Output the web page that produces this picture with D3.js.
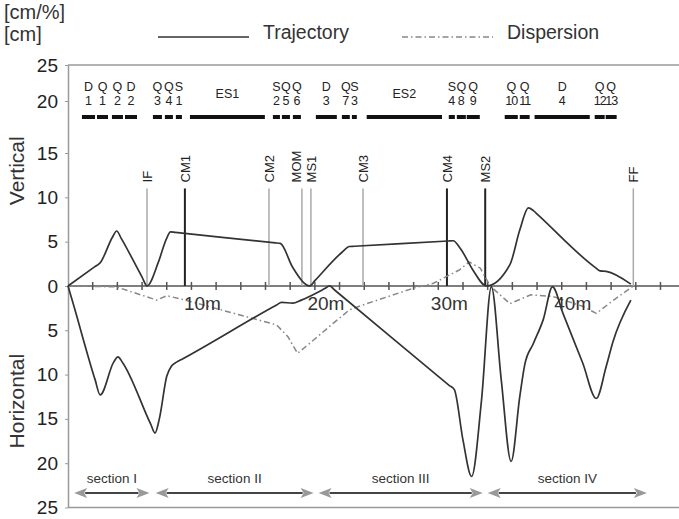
<!DOCTYPE html>
<html>
<head>
<meta charset="utf-8">
<script src="https://cdn.jsdelivr.net/npm/d3@7"></script>
<style>
  body { margin: 0; background: #fff; }
  svg { display: block; font-family: "Liberation Sans", Arial, Helvetica, sans-serif; }
</style>
</head>
<body>
<svg id="chart" width="679" height="519"></svg>
<script>
// Distance along the course [m] against displacement [cm].
// Vertical values are drawn upwards, horizontal values downwards.
const verticalTrajectory = [
  [0, 0], [2.2, 2.2], [2.6, 2.6], [3.6, 5.5], [3.95, 6.2], [4.3, 5.4], [6.0, 1.0], [6.4, 0],
  [7.3, 2.6], [8.0, 5.4], [8.3, 6.1], [8.7, 6.04], [16.8, 4.86], [17.2, 4.8],
  [18.2, 2.1], [19.6, 0], [20.0, 0.59], [22.2, 3.8], [22.8, 4.45], [23.2, 4.48],
  [30.8, 5.07], [31.2, 5.1], [31.8, 4.2], [32.8, 1.8], [33.9, 0], [35.8, 2.4],
  [36.6, 6.3], [37.3, 8.8], [37.7, 8.5], [38.1, 7.99], [42.7, 2.1], [43.1, 1.7],
  [43.6, 1.65], [45.6, 0.2]
];

const horizontalTrajectory = [
  [0, 0], [0.4, 1.9], [2.2, 10.6], [2.6, 12.3], [3.7, 8.6], [4.05, 8.0], [4.4, 8.6],
  [6.7, 15.6], [7.05, 16.6], [7.4, 15.0], [8.0, 10.2], [8.4, 9.0], [8.8, 8.6],
  [9.2, 8.3], [16.9, 2.15], [17.3, 1.85], [18.2, 1.95], [18.9, 1.6], [20.8, 0.3],
  [21.2, 0], [21.6, 0.46], [30.9, 11.24], [31.3, 11.7], [32.0, 17.4], [32.7, 21.5],
  [33.5, 12.9], [34.3, 0.1], [35.1, 10.6], [35.9, 19.8], [36.6, 12.5], [37.0, 8.9],
  [37.7, 6.5], [38.5, 3.8], [39.25, 0.1], [40.1, 3.1], [41.7, 8.7], [42.8, 12.7],
  [43.6, 9.1], [44.15, 6.3], [45.6, 1.6]
];

// Dispersion [%], signed: positive above the zero line, negative below.
const dispersion = [
  [0, 0], [3.9, -0.1], [7.2, -1.6], [8.0, -1.1], [9.5, -1.6], [16.9, -4.4],
  [17.8, -5.7], [18.6, -7.6], [19.9, -6.1], [21.5, -4.2], [22.8, -2.7],
  [24.2, -2.0], [28.1, -0.2], [29.6, 0.3], [31.7, 1.8], [32.5, 2.7], [33.4, 2.0],
  [34.2, 0], [35.8, -2.0], [37.5, -1.0], [39.3, -1.2], [41.7, -2.3], [42.8, -3.1],
  [44.2, -1.6], [45.8, 0]
];

// Event markers along the course [m]
const markerNames = ["IF", "CM1", "CM2", "MOM", "MS1", "CM3", "CM4", "MS2", "FF"];
const markerPositions = [6.4, 9.47, 16.28, 18.95, 19.68, 23.9, 30.7, 33.8, 45.8];
const strongMarkers = ["CM1", "CM4", "MS2"];
const markerTop = 11;

// Phase segments [m]
const phaseCodes = ["D","Q","Q","D","Q","Q","S","ES1","S","Q","Q","D","Q","S","ES2","S","Q","Q","Q","Q","D","Q","Q"];
const phaseNumbers = ["1","1","2","2","3","4","1","","2","5","6","3","7","3","","4","8","9","10","11","4","12","13"];
const phaseStart = [1.13, 2.35, 3.56, 4.62, 6.88, 7.85, 8.74, 9.88, 16.6, 17.33, 18.22, 20.08, 22.19, 23.0, 24.2, 30.85, 31.5, 32.3, 35.38, 36.6, 37.8, 42.67, 43.56];
const phaseEnd   = [2.19, 3.24, 4.45, 5.59, 7.61, 8.5, 9.23, 15.95, 17.17, 17.98, 18.87, 21.78, 22.83, 23.4, 30.3, 31.34, 32.23, 33.36, 36.44, 37.4, 42.27, 43.48, 44.45];

// Course sections [m]
const sectionNames = ["section I", "section II", "section III", "section IV"];
const sectionStart = [0.5, 7.1, 20.3, 34.0];
const sectionEnd   = [6.6, 19.9, 33.6, 46.9];

const xTicks = d3.range(2, 49, 2);
const xLabels = [10, 20, 30, 40];
const yTicksUp = [0, 5, 10, 15, 20, 25];
const yTicksDown = [5, 10, 15, 20, 25];

const svg = d3.select("#chart");

const x = d3.scaleLinear().domain([0, 49.5]).range([68, 679]);
// Linear up to 15 cm; the annotation band above is compressed.
const y = d3.scaleLinear().domain([-25, 15, 20, 25]).range([507.5, 153, 101, 65]);

const ink = "#333";
const grey = "#999";

// Frame: top and bottom rules
svg.append("line").attr("x1", x(0)).attr("x2", x(49.5)).attr("y1", y(25)).attr("y2", y(25))
  .attr("stroke", grey).attr("stroke-width", 1.5);
svg.append("line").attr("x1", x(0)).attr("x2", x(49.5)).attr("y1", y(-25)).attr("y2", y(-25))
  .attr("stroke", grey).attr("stroke-width", 1.5);

// Left axis: magnitudes on both sides of the zero line
const yAxis = d3.axisLeft(y)
  .tickValues(yTicksUp.concat(yTicksDown.map(d => -d)))
  .tickFormat(d => Math.abs(d))
  .tickSize(3).tickSizeOuter(0).tickPadding(7);
const gy = svg.append("g").attr("transform", `translate(${x(0)},0)`).call(yAxis);
gy.select(".domain").attr("stroke", grey).attr("stroke-width", 1.5);
gy.selectAll(".tick line").attr("stroke", grey);
gy.selectAll(".tick text").attr("font-size", 19).attr("fill", "#222")
  .attr("font-family", "Liberation Sans, Arial, sans-serif");

// Zero line with distance ticks
svg.append("line").attr("x1", x(0)).attr("x2", x(49.5)).attr("y1", y(0)).attr("y2", y(0))
  .attr("stroke", "#555").attr("stroke-width", 1.5);
svg.append("g").selectAll("line").data(xTicks).join("line")
  .attr("x1", d => x(d)).attr("x2", d => x(d))
  .attr("y1", y(0) - 4).attr("y2", y(0) + 4)
  .attr("stroke", "#555").attr("stroke-width", 1.5);

// Event markers; a label crowded by the next marker sits left of its line
const mk = svg.append("g").selectAll("g").data(markerNames).join("g");
mk.append("line")
  .attr("x1", (d, i) => x(markerPositions[i])).attr("x2", (d, i) => x(markerPositions[i]))
  .attr("y1", y(markerTop)).attr("y2", y(0))
  .attr("stroke", d => strongMarkers.includes(d) ? "#222" : "#aaa")
  .attr("stroke-width", d => strongMarkers.includes(d) ? 2 : 1.5);
mk.append("text")
  .attr("transform", (d, i) => {
    const px = x(markerPositions[i]);
    const crowded = i < markerPositions.length - 1 && x(markerPositions[i + 1]) - px < 12;
    return `translate(${crowded ? px - 0.5 : px + 4.8},${y(markerTop) - 6}) rotate(-90)`;
  })
  .attr("font-size", 13).attr("fill", "#222")
  .text(d => d);

// Phase bars with code and number above each
const ph = svg.append("g").selectAll("g").data(phaseCodes).join("g");
ph.append("line")
  .attr("x1", (d, i) => x(phaseStart[i])).attr("x2", (d, i) => x(phaseEnd[i]))
  .attr("y1", y(20) + 16).attr("y2", y(20) + 16)
  .attr("stroke", "#111").attr("stroke-width", 4);
ph.append("text")
  .attr("x", (d, i) => (x(phaseStart[i]) + x(phaseEnd[i])) / 2)
  .attr("y", (d, i) => phaseNumbers[i] ? y(20) - 10 : y(20) - 3)
  .attr("text-anchor", "middle").attr("font-size", 12.5).attr("fill", "#222")
  .text(d => d);
svg.append("g").selectAll("text")
  .data(phaseNumbers.map((n, i) => ({ n, i })).filter(o => o.n !== ""))
  .join("text")
  .attr("x", o => (x(phaseStart[o.i]) + x(phaseEnd[o.i])) / 2)
  .attr("y", y(20) + 4)
  .attr("text-anchor", "middle").attr("font-size", 12.5).attr("fill", "#222")
  .attr("letter-spacing", o => o.n.length > 1 ? -1 : 0)
  .text(o => o.n);

// Curves
const lineUp = d3.line().x(d => x(d[0])).y(d => y(d[1])).curve(d3.curveMonotoneX);
const lineDown = d3.line().x(d => x(d[0])).y(d => y(-d[1])).curve(d3.curveMonotoneX);
const lineDisp = d3.line().x(d => x(d[0])).y(d => y(d[1]));

svg.append("path").datum(dispersion).attr("d", lineDisp)
  .attr("fill", "none").attr("stroke", "#888").attr("stroke-width", 1.5)
  .attr("stroke-linejoin", "round")
  .attr("stroke-dasharray", "6,3,1.5,3");
svg.append("path").datum(verticalTrajectory).attr("d", lineUp)
  .attr("fill", "none").attr("stroke", ink).attr("stroke-width", 1.7);
svg.append("path").datum(horizontalTrajectory).attr("d", lineDown)
  .attr("fill", "none").attr("stroke", ink).attr("stroke-width", 1.7);

// Distance labels
svg.append("g").selectAll("text").data(xLabels).join("text")
  .attr("x", d => x(d) + 11).attr("y", y(0) + 24)
  .attr("text-anchor", "middle").attr("font-size", 19).attr("fill", "#333")
  .text(d => d + "m");

// Sections with double-headed arrows
const arrowY = 493;
const head = 13;
const sec = svg.append("g").selectAll("g").data(sectionNames).join("g");
sec.append("line")
  .attr("x1", (d, i) => x(sectionStart[i]) + head - 2).attr("x2", (d, i) => x(sectionEnd[i]) - head + 2)
  .attr("y1", arrowY).attr("y2", arrowY)
  .attr("stroke", "#444").attr("stroke-width", 2);
sec.append("path")
  .attr("d", (d, i) => {
    const a = x(sectionStart[i]), b = x(sectionEnd[i]);
    return `M${a},${arrowY}L${a + head},${arrowY - 5}L${a + head - 3},${arrowY}L${a + head},${arrowY + 5}Z` +
           `M${b},${arrowY}L${b - head},${arrowY - 5}L${b - head + 3},${arrowY}L${b - head},${arrowY + 5}Z`;
  })
  .attr("fill", "#999");
sec.append("text")
  .attr("x", (d, i) => (x(sectionStart[i]) + x(sectionEnd[i])) / 2)
  .attr("y", arrowY - 10)
  .attr("text-anchor", "middle").attr("font-size", 13.5).attr("fill", "#333")
  .text(d => d);

// Axis titles and units
svg.append("text").attr("transform", `translate(24,${y(13)}) rotate(-90)`)
  .attr("text-anchor", "middle").attr("font-size", 21).attr("fill", "#333").text("Vertical");
svg.append("text").attr("transform", `translate(24,${y(-13)}) rotate(-90)`)
  .attr("text-anchor", "middle").attr("font-size", 21).attr("fill", "#333").text("Horizontal");
svg.append("text").attr("x", 4).attr("y", 19).attr("font-size", 20).attr("fill", "#333").text("[cm/%]");
svg.append("text").attr("x", 4).attr("y", 41).attr("font-size", 20).attr("fill", "#333").text("[cm]");

// Legend
svg.append("line").attr("x1", 158).attr("x2", 249).attr("y1", 37).attr("y2", 37)
  .attr("stroke", ink).attr("stroke-width", 1.7);
svg.append("text").attr("x", 263).attr("y", 39).attr("font-size", 19.5).attr("fill", "#333").text("Trajectory");
svg.append("line").attr("x1", 402).attr("x2", 493).attr("y1", 37).attr("y2", 37)
  .attr("stroke", "#888").attr("stroke-width", 1.5).attr("stroke-dasharray", "6,3,1.5,3");
svg.append("text").attr("x", 507).attr("y", 39).attr("font-size", 19.5).attr("fill", "#333").text("Dispersion");
</script>
</body>
</html>
